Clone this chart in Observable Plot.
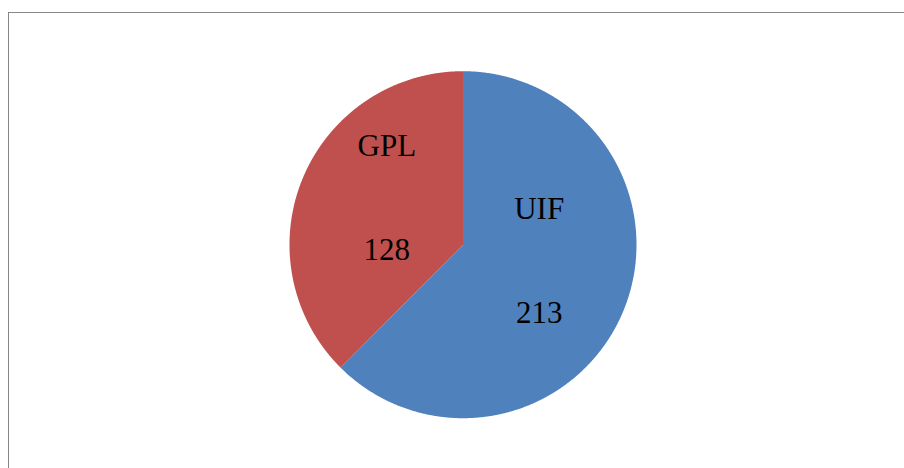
<!DOCTYPE html>
<html>
<head>
<meta charset="utf-8">
<script src="https://cdn.jsdelivr.net/npm/d3@7"></script>
<script src="https://cdn.jsdelivr.net/npm/@observablehq/plot@0.6"></script>
<style>
  html, body { margin: 0; padding: 0; background: #fff; overflow: hidden; }
  #wrap { position: relative; width: 904px; height: 468px; overflow: hidden; }
  #border { position: absolute; left: 8px; top: 12px; width: 1200px; height: 1200px;
            border: 1.5px solid #868686; box-sizing: border-box; }
  #chart { position: absolute; left: 0; top: 0; }
</style>
</head>
<body>
<div id="wrap"><div id="border"></div><div id="chart"></div></div>
<script>
// Data
const categories = ["UIF", "GPL"];
const values = [213, 128];
const colors = ["#4F81BD", "#C0504D"];

// Layout
const W = 904, H = 468;
const cx = 462.5, cy = 244.2, R = 173.5;

const data = categories.map((c, i) => ({name: c, value: values[i]}));
const arcs = d3.pie().sort(null).value(d => d.value)(data);

// Build slice polygons in unit-radius space (angle clockwise from top)
const poly = [];
for (const a of arcs) {
  poly.push({name: a.data.name, x: 0, y: 0});
  const n = Math.max(2, Math.ceil((a.endAngle - a.startAngle) / (Math.PI / 720)));
  for (let k = 0; k <= n; k++) {
    const t = a.startAngle + (a.endAngle - a.startAngle) * k / n;
    poly.push({name: a.data.name, x: Math.sin(t), y: Math.cos(t)});
  }
  poly.push({name: a.data.name, x: 0, y: 0});
}

// Label anchors from slice centroids
const labels = arcs.map(a => {
  const m = (a.startAngle + a.endAngle) / 2;
  const r = 0.475;
  return {name: a.data.name, value: a.data.value, x: r * Math.sin(m), y: r * Math.cos(m) + 0.087};
});

const chart = Plot.plot({
  width: W,
  height: H,
  margin: 0,
  x: {domain: [(0 - cx) / R, (W - cx) / R], axis: null},
  y: {domain: [(cy - H) / R, cy / R], axis: null},
  color: {domain: categories, range: colors},
  style: {background: "transparent", fontFamily: "'Liberation Serif', 'Times New Roman', serif"},
  marks: [
    Plot.line(poly, {x: "x", y: "y", z: "name", fill: "name", stroke: "none", curve: "linear"}),
    Plot.text(labels, {x: "x", y: "y", text: "name", dy: -52, fontSize: 31, fill: "black", lineAnchor: "middle"}),
    Plot.text(labels, {x: "x", y: "y", text: d => String(d.value), dy: 52, fontSize: 31, fill: "black", lineAnchor: "middle"})
  ]
});
document.getElementById("chart").appendChild(chart);
</script>
</body>
</html>
